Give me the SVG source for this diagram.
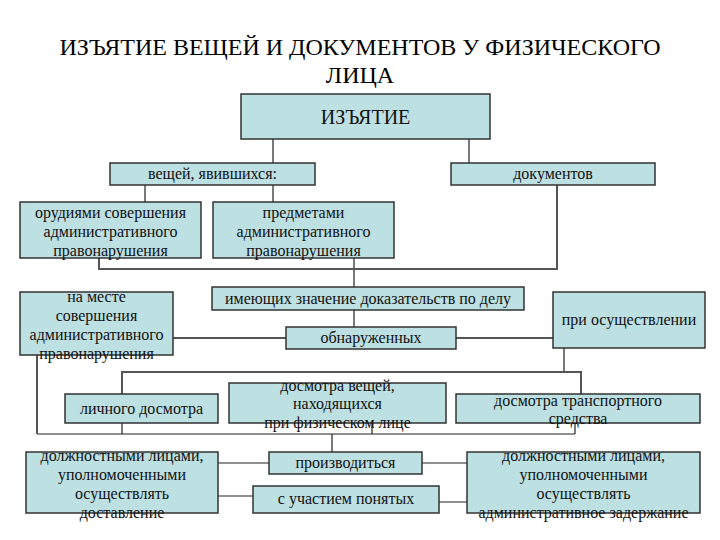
<svg xmlns="http://www.w3.org/2000/svg" width="720" height="540" viewBox="0 0 720 540">
<style>
.b{fill:#bde0e3;stroke:#333;stroke-width:1.5}
.t{font-family:"Liberation Serif","Times New Roman","DejaVu Serif",serif;font-size:16px;fill:#111;text-anchor:middle}
.ti{font-family:"Liberation Serif","Times New Roman","DejaVu Serif",serif;font-size:24px;fill:#000;text-anchor:middle}
.c1{fill:none;stroke:#222;stroke-width:1.2}
.c2{fill:none;stroke:#555;stroke-width:2}
</style>
<rect width="720" height="540" fill="#fff"/>
<g id="title">
<text class="ti" x="360" y="55">ИЗЪЯТИЕ ВЕЩЕЙ И ДОКУМЕНТОВ У ФИЗИЧЕСКОГО</text>
<text class="ti" x="360" y="83">ЛИЦА</text>
</g>
<g id="connectors">
<path class="c1" d="M273,139V163M469,139V163M145,185V202M273,185V202M354,258V287M354,310V327M564,348V372M37,434H575M122,423V434M372,423V434M575,423V434M332,434V452M218,463H269M422,463H467M218,496H253M439,502H467"/>
<path class="c2" d="M99,258V269H557V185M173,338H286M456,338H553M122,394V372H581V394M37,355V434"/>
</g>
<g id="n-izyatie"><rect class="b" x="241" y="94" width="249" height="45"/><text class="t" x="365.5" y="124" style="font-size:20px">ИЗЪЯТИЕ</text></g>
<g id="n-veshchey"><rect class="b" x="110" y="163" width="205" height="22"/><text class="t" x="212.5" y="179">вещей, явившихся:</text></g>
<g id="n-dokumentov"><rect class="b" x="451" y="163" width="204" height="22"/><text class="t" x="553" y="179">документов</text></g>
<g id="n-orudiyami"><rect class="b" x="20" y="202" width="181" height="56"/><text class="t" x="110.5" y="218">орудиями совершения</text><text class="t" x="110.5" y="237">административного</text><text class="t" x="110.5" y="256">правонарушения</text></g>
<g id="n-predmetami"><rect class="b" x="213" y="202" width="181" height="56"/><text class="t" x="303.5" y="218">предметами</text><text class="t" x="303.5" y="237">административного</text><text class="t" x="303.5" y="256">правонарушения</text></g>
<g id="n-imeyushchikh"><rect class="b" x="212" y="287" width="312" height="23"/><text class="t" x="368" y="304">имеющих значение доказательств по делу</text></g>
<g id="n-obnaruzhennykh"><rect class="b" x="286" y="327" width="170" height="22"/><text class="t" x="371" y="343">обнаруженных</text></g>
<g id="n-na-meste"><rect class="b" x="20" y="292" width="153" height="63"/><text class="t" x="96.5" y="302">на месте</text><text class="t" x="96.5" y="321">совершения</text><text class="t" x="96.5" y="340">административного</text><text class="t" x="96.5" y="359">правонарушения</text></g>
<g id="n-pri-osushchestvlenii"><rect class="b" x="553" y="292" width="152" height="56"/><text class="t" x="629" y="325">при осуществлении</text></g>
<g id="n-lichnogo"><rect class="b" x="65" y="394" width="153" height="29"/><text class="t" x="141.5" y="414">личного досмотра</text></g>
<g id="n-veshchey-pri-litse"><rect class="b" x="229" y="383" width="217" height="40"/><text class="t" x="337.5" y="391">досмотра вещей,</text><text class="t" x="337.5" y="409">находящихся</text><text class="t" x="337.5" y="428">при физическом лице</text></g>
<g id="n-transportnogo"><rect class="b" x="456" y="394" width="244" height="29"/><text class="t" x="578" y="406">досмотра транспортного</text><text class="t" x="578" y="424">средства</text></g>
<g id="n-dolzh-left"><rect class="b" x="26" y="452" width="192" height="61"/><text class="t" x="122" y="461">должностными лицами,</text><text class="t" x="122" y="480">уполномоченными</text><text class="t" x="122" y="499">осуществлять</text><text class="t" x="122" y="518">доставление</text></g>
<g id="n-proizvoditsya"><rect class="b" x="269" y="452" width="153" height="22"/><text class="t" x="345.5" y="468">производиться</text></g>
<g id="n-ponyatykh"><rect class="b" x="253" y="486" width="186" height="27"/><text class="t" x="346" y="504">с участием понятых</text></g>
<g id="n-dolzh-right"><rect class="b" x="467" y="452" width="233" height="61"/><text class="t" x="583.5" y="461">должностными лицами,</text><text class="t" x="583.5" y="480">уполномоченными</text><text class="t" x="583.5" y="499">осуществлять</text><text class="t" x="583.5" y="518">административное задержание</text></g>
</svg>
